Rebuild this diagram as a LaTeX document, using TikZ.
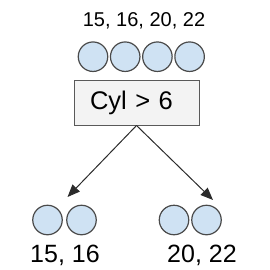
\documentclass[tikz,border=0pt]{standalone}
\usepackage{fontspec}
\setmainfont{Liberation Sans}
\usetikzlibrary{arrows.meta}
\definecolor{circfill}{HTML}{CFE2F3}
\definecolor{circline}{HTML}{4A4A4A}
\definecolor{boxfill}{HTML}{F3F3F3}
\definecolor{boxline}{HTML}{595959}
\definecolor{arrowcol}{HTML}{2B2B2B}
\tikzset{
  ball/.style={circle, draw=circline, fill=circfill, line width=1.2pt, minimum size=29.5pt, inner sep=0pt},
  splitbox/.style={draw=boxline, fill=boxfill, line width=1pt, minimum height=45pt, text width=93pt, inner xsep=16pt, inner ysep=0pt, align=left, font=\fontsize{25.5}{30}\selectfont},
  lbl/.style={anchor=base, inner sep=0pt},
  arr/.style={draw=arrowcol, line width=1pt, -{Triangle[length=12.5pt,width=10pt]}}
}
\begin{document}
\begin{tikzpicture}[x=1pt,y=-1pt]
\useasboundingbox (0,0) rectangle (270,270);
\node[lbl, font=\fontsize{20}{24}\selectfont] (toplbl) at (144,27) {15, 16, 20, 22};
\node[ball] (t1) at (93,56.7) {};
\node[ball] (t2) at (125.2,56.7) {};
\node[ball] (t3) at (157.4,56.7) {};
\node[ball] (t4) at (189.6,56.7) {};
\node[splitbox] (box) at (136.5,102.5) {Cyl > 6};
\coordinate (ltip) at (67.5,197);
\coordinate (rtip) at (213,200);
\draw[arr] (box.south) -- (ltip);
\draw[arr] (box.south) -- (rtip);
\node[ball] (l1) at (47.5,220) {};
\node[ball] (l2) at (81.5,220) {};
\node[ball] (r1) at (174,220) {};
\node[ball] (r2) at (206.5,220) {};
\node[lbl, font=\fontsize{25}{30}\selectfont] (llbl) at (65,262) {15, 16};
\node[lbl, font=\fontsize{25}{30}\selectfont] (rlbl) at (202,262) {20, 22};
\end{tikzpicture}
\end{document}
